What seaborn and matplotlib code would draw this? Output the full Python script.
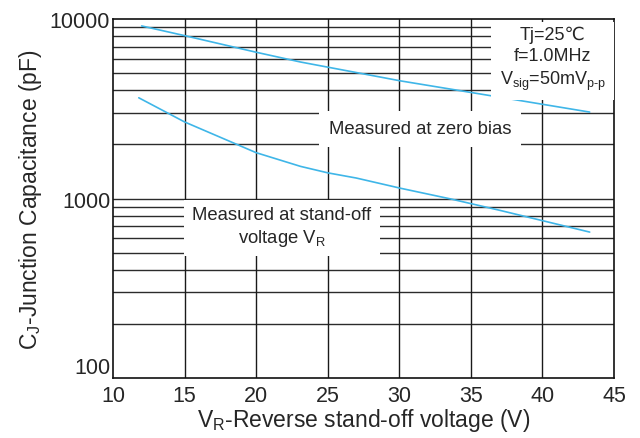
import numpy as np
import pandas as pd
import matplotlib
matplotlib.use("Agg")
import matplotlib.pyplot as plt
import seaborn as sns

# values
v_zero = [12.0, 15.0, 20.0, 23.1, 30.1, 37.0, 43.3]
c_zero = [9150, 8080, 6530, 5760, 4520, 3670, 3030]

v_standoff = [11.8, 15.0, 20.0, 23.1, 25.0, 27.0, 30.1, 33.6, 37.0, 43.3]
c_standoff = [3640, 2670, 1800, 1510, 1390, 1300, 1140, 994, 860, 650]

x_ticks = [10, 15, 20, 25, 30, 35, 40, 45]
y_ticks = [100, 1000, 10000]
y_ticklabels = ["100", "1000", "10000"]

df = pd.concat([
    pd.DataFrame({"V": v_zero, "C": c_zero, "curve": "zero"}),
    pd.DataFrame({"V": v_standoff, "C": c_standoff, "curve": "standoff"}),
])

sns.set_style("white")
plt.rcParams["font.family"] = ["Liberation Sans", "DejaVu Sans"]
plt.rcParams["mathtext.fontset"] = "custom"
plt.rcParams["mathtext.rm"] = "Liberation Sans"

fig = plt.figure(figsize=(6.4, 4.39), dpi=100)
ax = fig.add_axes([0.1766, 0.1367, 0.7828, 0.8177])

# grid first, curves on top
minor = [m * d for d in (100, 1000) for m in range(2, 10)]
for y in minor + [1000]:
    ax.axhline(y, color="#2b2b2b", lw=1.0, zorder=1)
for x in x_ticks[1:-1]:
    ax.axvline(x, color="#1a1a1a", lw=1.0, zorder=1)

sns.lineplot(data=df, x="V", y="C", hue="curve", units="curve", estimator=None,
             palette={"zero": "#3fb6e8", "standoff": "#3fb6e8"},
             legend=False, lw=1.2, ax=ax, zorder=3)

ax.set_yscale("log")
ax.set_xlim(10, 45)
ax.set_ylim(100, 10000)
ax.set_xticks(x_ticks)
ax.set_yticks(y_ticks)
ax.set_yticklabels(y_ticklabels)
ax.yaxis.set_minor_locator(matplotlib.ticker.NullLocator())
ax.tick_params(axis="both", which="both", length=0, labelsize=15.5)
ax.tick_params(axis="x", pad=5)
ax.tick_params(axis="y", pad=2)
# lift the "100" label a little so it clears the "10" below it
ax.get_yticklabels()[0].set_va("bottom")
for s in ax.spines.values():
    s.set_color("#111111")
    s.set_linewidth(1.2)

ax.set_xlabel("V$_\\mathregular{R}$-Reverse stand-off voltage (V)", fontsize=16.5, labelpad=0)
ax.set_ylabel("C$_\\mathregular{J}$-Junction Capacitance (pF)", fontsize=16.5, labelpad=4)

ax.text(0.878, 0.889,
        "Tj=25\u2103\nf=1.0MHz\nV$_\\mathregular{sig}$=50mV$_\\mathregular{p\u2010p}$",
        transform=ax.transAxes, ha="center", va="center", fontsize=13,
        linespacing=1.3, bbox=dict(facecolor="white", edgecolor="none", pad=6),
        zorder=4)
ax.text(0.613, 0.694, "Measured at zero bias", transform=ax.transAxes,
        ha="center", va="center", fontsize=13.3,
        bbox=dict(facecolor="white", edgecolor="none", pad=7), zorder=4)
ax.text(0.337, 0.421, "Measured at stand-off\nvoltage V$_\\mathregular{R}$",
        transform=ax.transAxes, ha="center", va="center", fontsize=13.3,
        linespacing=1.25, bbox=dict(facecolor="white", edgecolor="none", pad=6),
        zorder=4)

fig.savefig("out.png", dpi=100)
